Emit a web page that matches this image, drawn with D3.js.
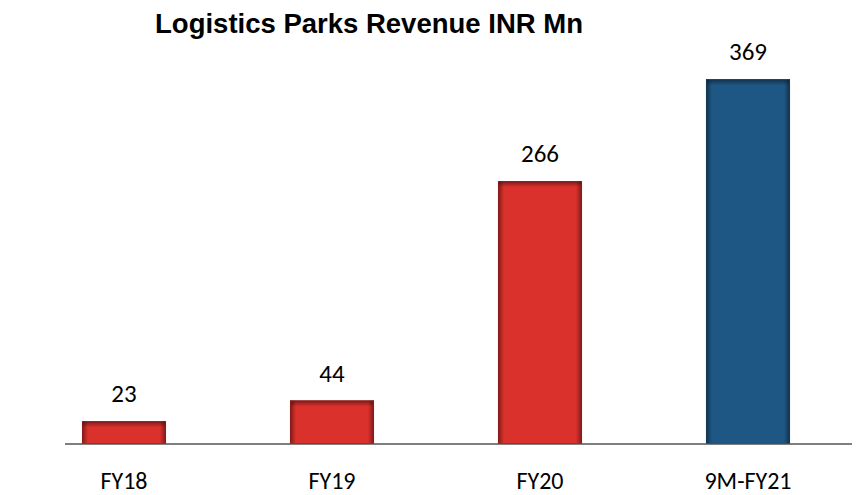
<!DOCTYPE html>
<html>
<head>
<meta charset="utf-8">
<script src="https://cdn.jsdelivr.net/npm/d3@7"></script>
<style>
  body { margin: 0; background: #ffffff; }
  svg { display: block; }
</style>
</head>
<body>
<div id="chart"></div>
<script>
"use strict";

// data
var categories = ["FY18", "FY19", "FY20", "9M-FY21"];
var revenue = [23, 44, 266, 369];
var barColors = ["#da312d", "#da312d", "#da312d", "#1f5784"];
var edgeColors = ["#8e1d1a", "#8e1d1a", "#8e1d1a", "#143a59"];
var chartTitle = "Logistics Parks Revenue INR Mn";

var width = 859,
	height = 495,
	baseY = 444,
	edgeW = 6;

var svg = d3.select("#chart").append("svg")
	.attr("width", width)
	.attr("height", height);

// gradients for the bevelled edges
var defs = svg.append("defs");
function shadeGradient(id, x2, y2){
	var g = defs.append("linearGradient")
		.attr("id", id)
		.attr("x1", 0).attr("y1", 0)
		.attr("x2", x2).attr("y2", y2);
	g.append("stop").attr("offset", 0).attr("stop-color", "#000").attr("stop-opacity", 0.45);
	g.append("stop").attr("offset", 1).attr("stop-color", "#000").attr("stop-opacity", 0);
}
shadeGradient("shadeL", 1, 0);
shadeGradient("shadeT", 0, 1);
var gr = defs.append("linearGradient")
	.attr("id", "shadeR")
	.attr("x1", 0).attr("y1", 0).attr("x2", 1).attr("y2", 0);
gr.append("stop").attr("offset", 0).attr("stop-color", "#000").attr("stop-opacity", 0);
gr.append("stop").attr("offset", 1).attr("stop-color", "#000").attr("stop-opacity", 0.45);

var x = d3.scaleBand()
	.domain(categories)
	.range([20, 852])
	.paddingInner(0.596)
	.paddingOuter(0.298);

var y = d3.scaleLinear()
	.domain([0, 369])
	.range([baseY, 79.3]);

var bars = svg.selectAll("g.bar")
	.data(revenue)
	.enter().append("g")
	.attr("class", "bar")
	.attr("transform", function(d, i){ return "translate(" + x(categories[i]) + "," + y(d) + ")"; });

bars.append("rect")
	.attr("width", x.bandwidth())
	.attr("height", function(d){ return baseY - y(d); })
	.attr("fill", function(d, i){ return barColors[i]; });

bars.append("rect")
	.attr("width", edgeW)
	.attr("height", function(d){ return baseY - y(d); })
	.attr("fill", "url(#shadeL)");

bars.append("rect")
	.attr("x", x.bandwidth() - edgeW)
	.attr("width", edgeW)
	.attr("height", function(d){ return baseY - y(d); })
	.attr("fill", "url(#shadeR)");

bars.append("rect")
	.attr("width", x.bandwidth())
	.attr("height", edgeW)
	.attr("fill", "url(#shadeT)");

bars.append("rect")
	.attr("x", 0.5).attr("y", 0.5)
	.attr("width", x.bandwidth() - 1)
	.attr("height", function(d){ return baseY - y(d) - 1; })
	.attr("fill", "none")
	.attr("stroke", function(d, i){ return edgeColors[i]; })
	.attr("stroke-width", 1);

// value labels
svg.selectAll("text.val")
	.data(revenue)
	.enter().append("text")
	.attr("class", "val")
	.attr("x", function(d, i){ return x(categories[i]) + x.bandwidth()/2; })
	.attr("y", function(d){ return y(d) - 19; })
	.attr("text-anchor", "middle")
	.style("font-family", "Carlito, Calibri, Lato, sans-serif")
	.style("font-size", "25px")
	.style("fill", "#000")
	.text(function(d){ return d; });

// baseline
svg.append("line")
	.attr("x1", 65).attr("x2", 852)
	.attr("y1", baseY).attr("y2", baseY)
	.attr("stroke", "#555")
	.attr("stroke-width", 1.5);

// category labels
var xAxis = d3.axisBottom(x).tickSize(0).tickPadding(0);
var axisG = svg.append("g")
	.attr("transform", "translate(0," + baseY + ")")
	.call(xAxis);
axisG.select(".domain").remove();
axisG.selectAll("text")
	.attr("dy", null)
	.attr("y", 45)
	.style("font-family", "Carlito, Calibri, Lato, sans-serif")
	.style("font-size", "24px")
	.style("fill", "#000");

// title
svg.append("text")
	.attr("x", 369)
	.attr("y", 33)
	.attr("text-anchor", "middle")
	.style("font-family", "'Liberation Sans', Arial, sans-serif")
	.style("font-weight", "bold")
	.style("font-size", "27.5px")
	.style("fill", "#000")
	.text(chartTitle);
</script>
</body>
</html>
